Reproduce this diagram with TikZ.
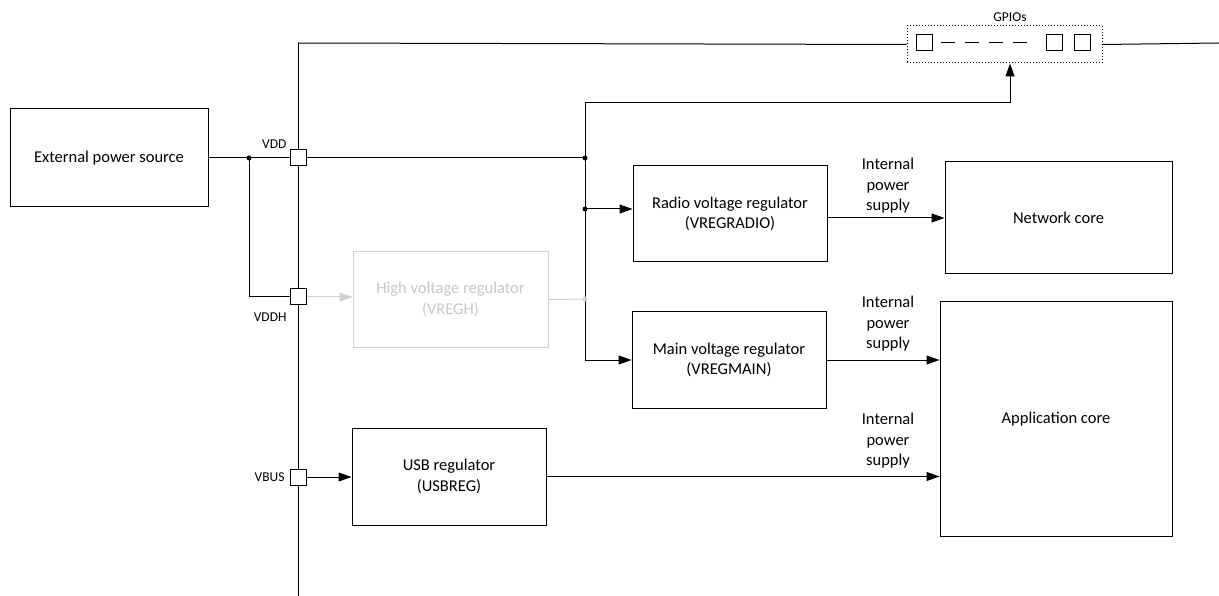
\documentclass[tikz,border=0pt]{standalone}
\usepackage{fontspec}
\setmainfont{Carlito}
\usetikzlibrary{arrows.meta}
\begin{document}
\begin{tikzpicture}[x=1pt,y=-1pt,
  line width=1pt,
  box/.style={draw, fill=white, align=center, inner sep=0pt, font=\fontsize{16.5}{20.5}\selectfont},
  ghost/.style={draw=black!18, text=black!22, align=center, inner sep=0pt, font=\fontsize{16.5}{20.5}\selectfont},
  pin/.style={draw, fill=white, minimum size=16pt, inner sep=0pt},
  small/.style={font=\fontsize{13.5}{16}\selectfont, inner sep=0pt},
  lbl/.style={align=center, font=\fontsize{16.5}{20.5}\selectfont, inner sep=0pt},
  arr/.style={-{Triangle[length=13pt,width=9pt]}},
  garr/.style={draw=black!18, -{Triangle[length=13pt,width=9pt]}},
  dot/.style={circle, fill, minimum size=5pt, inner sep=0pt}
]
\useasboundingbox (0,0) rectangle (1219,596);

% blocks
\node[box, minimum width=198pt, minimum height=98pt] (ext) at (109,158) {External power source};
\node[ghost, minimum width=195pt, minimum height=95pt] (hv) at (450.5,299.5) {High voltage regulator\\(VREGH)};
\node[box, minimum width=194pt, minimum height=96pt] (radio) at (730,214) {Radio voltage regulator\\(VREGRADIO)};
\node[box, minimum width=194pt, minimum height=96pt] (main) at (729,360) {Main voltage regulator\\(VREGMAIN)};
\node[box, minimum width=194pt, minimum height=97pt] (usb) at (449,476.5) {USB regulator\\(USBREG)};
\node[box, minimum width=227pt, minimum height=112pt] (net) at (1058.5,218) {Network core};
\node[box, minimum width=232pt, minimum height=234pt] (app) at (1056,419) {Application core};

% pins
\node[pin] (vdd) at (298,158) {};
\node[pin] (vddh) at (298,297) {};
\node[pin] (vbus) at (298,477) {};
\node[small, anchor=east] (lvdd) at (287,144) {VDD};
\node[small, anchor=east] (lvddh) at (287,317) {VDDH};
\node[small, anchor=east] (lvbus) at (285,477) {VBUS};

% GPIO block
\node[draw, dotted, minimum width=195pt, minimum height=37pt, inner sep=0pt] (gpio) at (1004.5,44.5) {};
\node[small] (lgpio) at (1010,17) {GPIOs};
\node[pin] (g1) at (924,43) {};
\node[pin] (g2) at (1054,43) {};
\node[pin] (g3) at (1082,43) {};
\draw[dash pattern=on 14pt off 10pt] ([xshift=8pt]g1.east) -- ([xshift=-18pt]g2.west);

% coordinates
\coordinate (bt) at (298,43);
\coordinate (bb) at (298,596);
\coordinate (rt) at (1219,43);
\coordinate (j1) at (249,158);
\coordinate (j2) at (585,158);
\coordinate (j3) at (585,209);
\coordinate (j4) at (585,299);
\coordinate (c1) at (1010,103);

% bus
\draw (bt) -- (vdd.north);
\draw (vdd.south) -- (vddh.north);
\draw (vddh.south) -- (vbus.north);
\draw (vbus.south) -- (bb);
\draw (bt) -- (gpio.west);
\draw (gpio.east) -- (rt);

% connections
\draw (ext.east) -- (vdd.west);
\draw (j1) |- (vddh.west);
\draw (vdd.east) -- (j2);
\draw[arr] (j2) |- (c1) -- (c1 |- gpio.south);
\draw (j2) -- (j3);
\draw[arr] (j3) -- (j3 -| radio.west);
\draw[arr] (j3) |- (main.west);
\draw[arr] (radio.east |- net) -- (net.west);
\draw[arr] (main.east) -- (main.east -| app.west);
\draw[arr] (vbus.east) -- (vbus.east -| usb.west);
\draw[arr] (usb.east) -- (usb.east -| app.west);

% gray
\draw[garr] (vddh.east) -- (vddh.east -| hv.west);
\draw[draw=black!18] (hv.east) -- (j4);
\fill[black!18] (j4) circle (2.5pt);

% dots
\fill (j1) circle (2.5pt);
\fill (j2) circle (2.5pt);
\fill (j3) circle (2.5pt);

% labels
\node[lbl] (l1) at (888,186) {Internal\\power\\supply};
\node[lbl] (l2) at (888,324) {Internal\\power\\supply};
\node[lbl] (l3) at (888,441) {Internal\\power\\supply};
\end{tikzpicture}
\end{document}
